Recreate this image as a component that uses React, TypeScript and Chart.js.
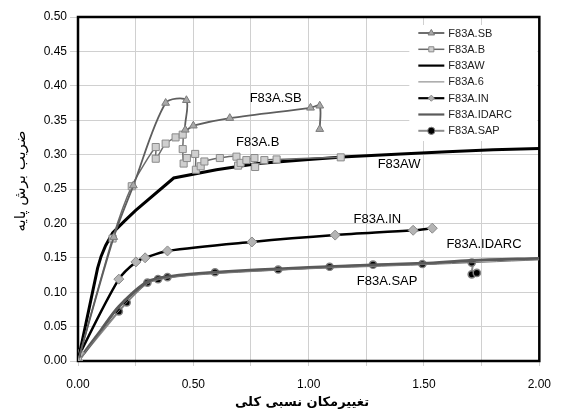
import React, { useEffect, useRef } from "react";
import { Chart, registerables } from "chart.js";

Chart.register(...registerables);

// ---- data (x = relative drift, y = base shear coefficient) ----
const sbX = [0, 0.155, 0.24, 0.38, 0.47, 0.465, 0.5, 0.658, 1.008, 1.048, 1.048];
const sbY = [0, 0.18, 0.255, 0.375, 0.379, 0.336, 0.342, 0.353, 0.368, 0.371, 0.337];

const bX = [0, 0.15, 0.233, 0.337, 0.337, 0.38, 0.423, 0.454, 0.454, 0.458, 0.472, 0.508, 0.511, 0.532, 0.548, 0.615, 0.687, 0.694, 0.705, 0.73, 0.765, 0.768, 0.808, 0.861, 1.139];
const bY = [0, 0.178, 0.254, 0.311, 0.294, 0.316, 0.325, 0.329, 0.308, 0.287, 0.295, 0.301, 0.278, 0.283, 0.29, 0.295, 0.297, 0.284, 0.288, 0.292, 0.295, 0.282, 0.292, 0.293, 0.296];

const awX = [0, 0.085, 0.1, 0.12, 0.15, 0.2, 0.25, 0.415, 0.6, 0.78, 1.0, 1.165, 1.4, 1.6, 1.8, 2.0];
const awY = [0, 0.135, 0.152, 0.168, 0.186, 0.203, 0.219, 0.266, 0.278, 0.287, 0.293, 0.297, 0.301, 0.304, 0.307, 0.309];

const a6X = [0, 0.17, 0.3, 0.4, 0.6, 1.0, 1.5, 2.0];
const a6Y = [0, 0.07, 0.112, 0.121, 0.127, 0.134, 0.14, 0.147];

const inX = [0, 0.009, 0.177, 0.251, 0.291, 0.388, 0.754, 1.115, 1.453, 1.536];
const inY = [0, 0.011, 0.119, 0.144, 0.15, 0.16, 0.173, 0.183, 0.19, 0.193];

const idX = [0, 0.1, 0.177, 0.3, 0.4, 0.6, 1.0, 1.5, 1.7, 2.0];
const idY = [0, 0.045, 0.079, 0.115, 0.123, 0.129, 0.136, 0.142, 0.146, 0.149];

const sapX = [0, 0.177, 0.211, 0.301, 0.347, 0.388, 0.594, 0.868, 1.091, 1.279, 1.493, 1.707, 1.707, 1.729];
const sapY = [0, 0.072, 0.085, 0.114, 0.119, 0.122, 0.129, 0.133, 0.137, 0.14, 0.141, 0.143, 0.126, 0.128];

const seriesNames = ["F83A.SB", "F83A.B", "F83AW", "F83A.6", "F83A.IN", "F83A.IDARC", "F83A.SAP"];

const labelTexts = ["F83A.SB", "F83A.B", "F83AW", "F83A.IN", "F83A.IDARC", "F83A.SAP"];
const labelX = [0.857, 0.779, 1.392, 1.298, 1.76, 1.34];
const labelY = [0.382, 0.318, 0.285, 0.206, 0.17, 0.116];

const xTitle = "تغییرمکان نسبی کلی";
const yTitle = "ضریب برش پایه";

const toPts = (xs: number[], ys: number[]) => xs.map((x, i) => ({ x, y: ys[i] }));

function drawMarker(ctx: CanvasRenderingContext2D, style: string, x: number, y: number, r: number, fill: string, stroke: string, bw: number) {
  if (style === "none") return;
  ctx.save();
  ctx.beginPath();
  if (style === "triangle") {
    ctx.moveTo(x, y - r);
    ctx.lineTo(x + r * 0.9, y + r * 0.55);
    ctx.lineTo(x - r * 0.9, y + r * 0.55);
    ctx.closePath();
  } else if (style === "rect") {
    const s = r * 0.707;
    ctx.rect(x - s, y - s, 2 * s, 2 * s);
  } else if (style === "rectRot") {
    const s = r * 0.85;
    ctx.moveTo(x, y - s);
    ctx.lineTo(x + s, y);
    ctx.lineTo(x, y + s);
    ctx.lineTo(x - s, y);
    ctx.closePath();
  } else {
    ctx.arc(x, y, r, 0, Math.PI * 2);
  }
  ctx.fillStyle = fill;
  ctx.fill();
  ctx.lineWidth = bw;
  ctx.strokeStyle = stroke;
  ctx.stroke();
  ctx.restore();
}

const framePlugin = {
  id: "frame",
  beforeDatasetsDraw(chart: any) {
    const { ctx, chartArea: a } = chart;
    ctx.save();
    ctx.strokeStyle = "#000";
    ctx.lineWidth = 2.5;
    ctx.strokeRect(a.left, a.top, a.right - a.left, a.bottom - a.top);
    ctx.restore();
  },
  afterDraw(chart: any) {
    const { ctx, chartArea: a, scales } = chart;
    ctx.save();
    // curve labels
    ctx.fillStyle = "#000";
    ctx.font = "13px 'Liberation Sans', Arial, sans-serif";
    ctx.textAlign = "center";
    ctx.textBaseline = "middle";
    labelTexts.forEach((t, i) => {
      ctx.fillText(t, scales.x.getPixelForValue(labelX[i]), scales.y.getPixelForValue(labelY[i]));
    });
    // legend
    const lx = a.right - 130;
    const ly = a.top + 8;
    ctx.fillStyle = "#fff";
    ctx.fillRect(lx, ly, 128, 116);
    chart.data.datasets.forEach((ds: any, i: number) => {
      const y = ly + 8 + i * 16.3;
      const x0 = lx + 9;
      const x1 = lx + 35;
      ctx.beginPath();
      ctx.moveTo(x0, y);
      ctx.lineTo(x1, y);
      ctx.strokeStyle = ds.borderColor;
      ctx.lineWidth = Math.min(ds.borderWidth, 2.2);
      ctx.stroke();
      drawMarker(ctx, ds.pointStyle, (x0 + x1) / 2, y, Math.min(ds.pointRadius, 3.6), ds.pointBackgroundColor, ds.pointBorderColor, 1);
      ctx.fillStyle = "#222";
      ctx.font = "11px 'Liberation Sans', Arial, sans-serif";
      ctx.textAlign = "left";
      ctx.fillText(ds.label, x1 + 4, y + 0.5);
    });
    // axis titles
    ctx.fillStyle = "#000";
    ctx.font = "bold 13px 'DejaVu Sans', sans-serif";
    ctx.textAlign = "center";
    ctx.fillText(xTitle, 302, 403);
    ctx.save();
    ctx.translate(21, 181);
    ctx.rotate(-Math.PI / 2);
    ctx.font = "15px 'DejaVu Sans', sans-serif";
    ctx.fillText(yTitle, 0, 0);
    ctx.restore();
    ctx.restore();
  },
};

export default function App() {
  const ref = useRef<HTMLCanvasElement>(null);
  useEffect(() => {
    if (!ref.current) return;
    const mk = (i: number, xs: number[], ys: number[], o: any) => ({
      label: seriesNames[i],
      data: toPts(xs, ys),
      showLine: true,
      fill: false,
      ...o,
    });
    const datasets = [
      mk(3, a6X, a6Y, { borderColor: "#7a7a7a", borderWidth: 1, pointRadius: 0, pointStyle: "none", pointBackgroundColor: "#7a7a7a", pointBorderColor: "#7a7a7a", tension: 0.3 }),
      mk(5, idX, idY, { borderColor: "#5a5a5a", borderWidth: 3, pointRadius: 0, pointStyle: "none", pointBackgroundColor: "#5a5a5a", pointBorderColor: "#5a5a5a", tension: 0.3 }),
      mk(6, sapX, sapY, { borderColor: "#8c8c8c", borderWidth: 2, pointRadius: 3.6, pointStyle: "circle", pointBackgroundColor: "#000", pointBorderColor: "#808080", pointBorderWidth: 1.5, tension: 0.3 }),
      mk(4, inX, inY, { borderColor: "#000", borderWidth: 2.5, pointRadius: 5, pointStyle: "rectRot", pointBackgroundColor: "#b4b4b4", pointBorderColor: "#8a8a8a", pointBorderWidth: 1, tension: 0.3 }),
      mk(2, awX, awY, { borderColor: "#000", borderWidth: 3, pointRadius: 0, pointStyle: "none", pointBackgroundColor: "#000", pointBorderColor: "#000", tension: 0 }),
      mk(1, bX, bY, { borderColor: "#6a6a6a", borderWidth: 1.5, pointRadius: 5, pointStyle: "rect", pointBackgroundColor: "#cfcfcf", pointBorderColor: "#8a8a8a", pointBorderWidth: 1, tension: 0.25 }),
      mk(0, sbX, sbY, { borderColor: "#5e5e5e", borderWidth: 1.8, pointRadius: 4.5, pointStyle: "triangle", pointBackgroundColor: "#a8a8a8", pointBorderColor: "#7a7a7a", pointBorderWidth: 1, tension: 0.3 }),
    ];
    // legend order follows seriesNames
    const order = [6, 5, 4, 0, 3, 1, 2];
    const sorted = order.map((k) => datasets[k]);
    const chart = new Chart(ref.current, {
      type: "scatter",
      data: { datasets: sorted as any },
      options: {
        responsive: false,
        animation: false,
        events: [],
        layout: { padding: { left: 0, top: 17, right: 16, bottom: 0 } },
        plugins: { legend: { display: false }, tooltip: { enabled: false } },
        scales: {
          x: {
            type: "linear",
            min: 0,
            max: 2,
            afterFit: (s: any) => { s.height = 51; },
            grid: { color: "#d0d0d0", lineWidth: 1, tickLength: 5, drawTicks: true },
            border: { display: false },
            ticks: {
              stepSize: 0.25,
              padding: 11,
              color: "#000",
              font: { size: 12, family: "'Liberation Sans', Arial, sans-serif" },
              maxRotation: 0,
              autoSkip: false,
              callback: (v: any) => (Math.abs((v * 2) - Math.round(v * 2)) < 1e-6 ? Number(v).toFixed(2) : ""),
            },
          },
          y: {
            type: "linear",
            min: 0,
            max: 0.5,
            afterFit: (s: any) => { s.width = 78; },
            grid: { color: "#d0d0d0", lineWidth: 1, tickLength: 8 },
            border: { display: false },
            ticks: {
              stepSize: 0.05,
              padding: 3,
              color: "#000",
              font: { size: 12, family: "'Liberation Sans', Arial, sans-serif" },
              callback: (v: any) => Number(v).toFixed(2),
            },
          },
        },
      },
      plugins: [framePlugin],
    });
    return () => chart.destroy();
  }, []);
  return (
    <div style={{ position: "absolute", left: 0, top: 0, width: 562, height: 412, background: "#fff" }}>
      <canvas ref={ref} width={562} height={412} style={{ width: 562, height: 412, display: "block" }} />
    </div>
  );
}
